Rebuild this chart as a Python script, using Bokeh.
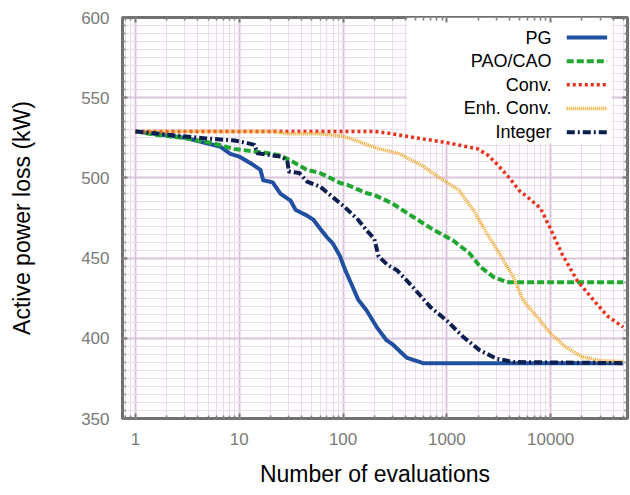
from bokeh.plotting import figure
from bokeh.models import (FixedTicker, LogAxis, LinearAxis, Label, BoxAnnotation,
                          Arrow, PrintfTickFormatter, Range1d)
from bokeh.embed import file_html
from bokeh.resources import INLINE

# ---------------- data ----------------
pg_n = [1, 3, 6.5, 8.2, 10, 13.7, 16, 17, 21, 25, 31, 35, 45, 52, 60, 70, 80, 93,
        105, 120, 140, 168, 211, 262, 303, 408, 590, 50000]
pg_v = [529, 525, 519.6, 515, 513.3, 508, 505, 498.5, 497.2, 490, 486, 480, 476.5,
        473.8, 468.5, 463, 459, 451.5, 442.5, 434, 424, 417.5, 407, 398.8, 396, 388,
        384.5, 384.5]

pao_n = [1, 1.5, 3, 5.5, 9, 14, 19, 25, 33, 45, 60, 70, 95, 110, 170, 200, 300, 470,
         750, 1150, 1650, 2100, 2800, 3800, 50000]
pao_v = [529, 527, 524.8, 521.7, 518, 516.5, 515.4, 514, 510, 505, 503, 501, 496.7,
         495.6, 490.4, 489.4, 484, 475.8, 467.5, 461, 453, 444.6, 438.3, 435, 435]

conv_n = [1, 200, 300, 500, 1000, 2000, 2500, 3000, 4000, 5000, 6000, 8000, 10000,
          13000, 18000, 25000, 35000, 50000]
conv_v = [529, 529, 527.5, 525, 522, 518, 514, 509, 500, 492, 488, 481, 468, 452,
          436, 425, 414, 407]

enh_n = [1, 20, 30, 60, 100, 130, 200, 350, 600, 900, 1300, 1800, 2400, 3200, 4300,
         5500, 7500, 10000, 14000, 20000, 30000, 50000]
enh_v = [529, 529, 527.5, 527.5, 526, 523.5, 519, 515, 507, 499, 492.5, 480, 466,
         453, 439, 423, 413, 403, 394.5, 388.5, 386, 385.5]

int_n = [1, 2, 4.5, 9, 12, 14, 15, 25, 29, 30, 38, 45, 60, 75, 105, 140, 170, 200,
         220, 270, 330, 470, 690, 1000, 1440, 2080, 3000, 4400, 50000]
int_v = [529, 527, 524.8, 523.3, 521.7, 520.6, 515.4, 513.3, 511, 504, 503, 497.7,
         494.6, 489.4, 481.5, 473.8, 467, 462, 451, 445.6, 442.5, 432, 419.6, 411,
         400.8, 392.5, 387.3, 385.2, 384.5]

series_labels = ["PG", "PAO/CAO", "Conv.", "Enh. Conv.", "Integer"]

x_major = [1, 10, 100, 1000, 10000]
y_major = [350, 400, 450, 500, 550, 600]

# ---------------- styling ----------------
styles = [
    dict(color="#2150a0", dash="solid", width=4),
    dict(color="#22a832", dash="7 3", width=4),
    dict(color="#e8321e", dash="3 3", width=3.5),
    dict(color="#f0a21e", dash="1 1", width=3.5),
    dict(color="#0c1f4f", dash="8 3 2 3", width=4),
]
series = [(pg_n, pg_v), (pao_n, pao_v), (conv_n, conv_v), (enh_n, enh_v), (int_n, int_v)]

FONT = "Liberation Sans"
GRAY = "#7a7a7a"

x_minor = [m * d for d in [0.1] + x_major for m in range(2, 10)]
y_minor = list(range(350, 601, 5))
xt = FixedTicker(ticks=x_major, minor_ticks=x_minor)
yt = FixedTicker(ticks=y_major, minor_ticks=y_minor)

p = figure(width=630, height=495, x_axis_type="log",
           x_range=Range1d(0.75, 55000), y_range=Range1d(350, 600),
           output_backend="svg", toolbar_location=None,
           min_border_left=122, min_border_right=3, min_border_top=17,
           min_border_bottom=77)

p.outline_line_color = "#707070"
p.outline_line_width = 3
p.background_fill_color = "white"
p.border_fill_color = "white"

for g, t in ((p.xgrid[0], xt), (p.ygrid[0], yt)):
    g.ticker = t
    g.grid_line_color = "#dcc4dc"
    g.grid_line_width = 2
    g.minor_grid_line_color = "#eadcea"
    g.minor_grid_line_width = 1
    g.level = "image"

def style_axis(ax, ticker, show_labels):
    ax.ticker = ticker
    ax.axis_line_color = None
    ax.major_tick_in = 5
    ax.major_tick_out = 0
    ax.minor_tick_in = 3
    ax.minor_tick_out = 0
    ax.major_tick_line_color = GRAY
    ax.major_tick_line_width = 2
    ax.minor_tick_line_color = GRAY
    ax.minor_tick_line_width = 1.5
    if show_labels:
        ax.major_label_text_font = FONT
        ax.major_label_text_font_size = "17px"
        ax.major_label_text_color = GRAY
        ax.axis_label_text_font = FONT
        ax.axis_label_text_font_size = "23px"
        ax.axis_label_text_font_style = "normal"
        ax.axis_label_text_color = "black"
    else:
        ax.major_label_text_font_size = "1px"
        ax.major_label_text_alpha = 0
        ax.major_label_standoff = 0

style_axis(p.xaxis[0], xt, True)
p.xaxis[0].formatter = PrintfTickFormatter(format="%d")
p.xaxis[0].axis_label = "Number of evaluations"
p.xaxis[0].major_label_standoff = 14
p.xaxis[0].axis_label_standoff = 13

style_axis(p.yaxis[0], yt, True)
p.yaxis[0].axis_label = "Active power loss (kW)"
p.yaxis[0].major_label_standoff = 13
p.yaxis[0].axis_label_standoff = 43

top = LogAxis()
style_axis(top, xt, False)
p.add_layout(top, "above")
right = LinearAxis()
style_axis(right, yt, False)
p.add_layout(right, "right")

for (xs, ys), st in zip(series, styles):
    p.line(xs, ys, line_color=st["color"], line_width=st["width"],
           line_dash=st["dash"], line_join="round")

# ---------------- legend (label left, sample right) ----------------
box = BoxAnnotation(left=412, right=38600, bottom=521.5, top=600,
                    fill_color="white", fill_alpha=1, line_color=None, level="underlay")
p.add_layout(box)
row_y = [587.5, 572.7, 558, 543.3, 528.5]
for lab, st, yy in zip(series_labels, styles, row_y):
    p.add_layout(Label(x=10200, y=yy, text=lab, text_align="right", text_baseline="middle",
                       text_font=FONT, text_font_size="18px", text_color="black"))
    p.add_layout(Arrow(x_start=14300, y_start=yy, x_end=35000, y_end=yy, end=None,
                       line_color=st["color"], line_width=st["width"],
                       line_dash=st["dash"]))

open("out.html", "w").write(file_html(p, INLINE))
